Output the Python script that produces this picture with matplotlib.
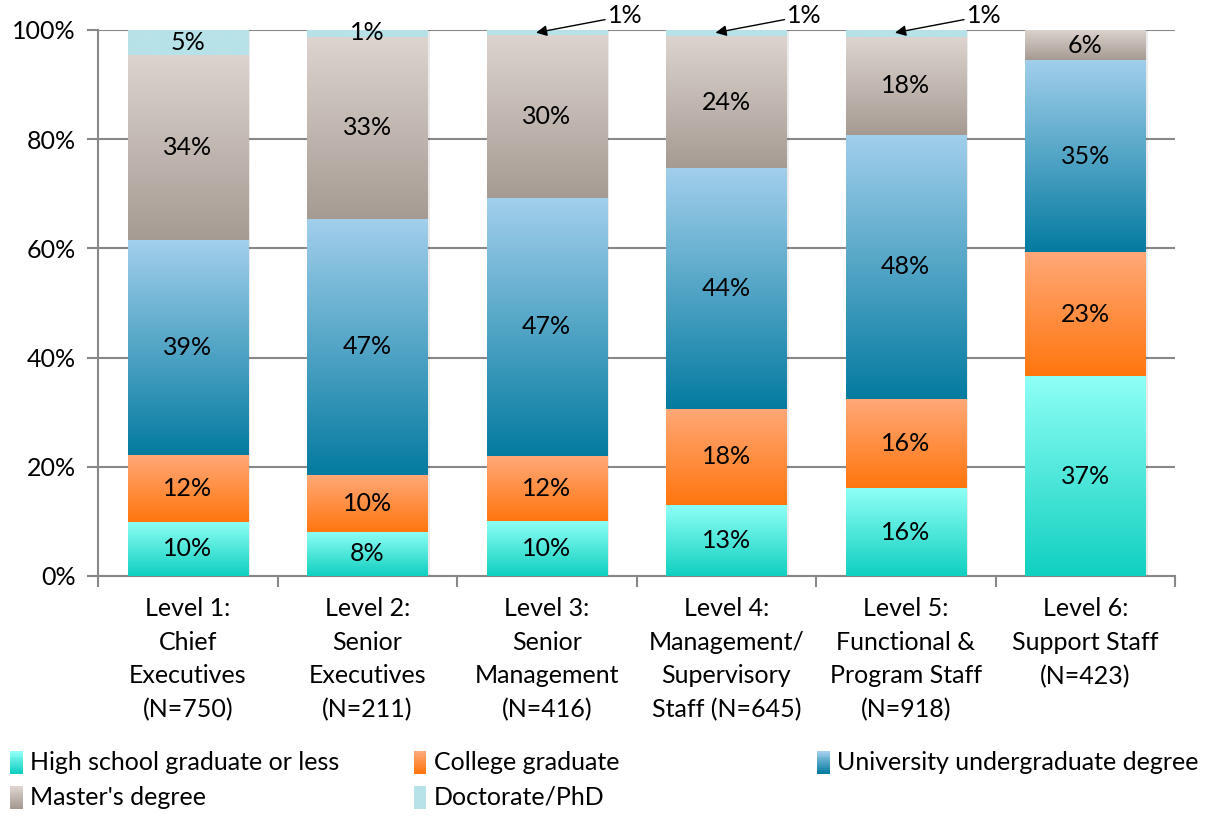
import matplotlib.pyplot as plt
import numpy as np
from matplotlib.colors import LinearSegmentedColormap
from matplotlib.patches import Rectangle
from matplotlib.legend_handler import HandlerBase

plt.rcParams['font.family'] = ['Lato', 'DejaVu Sans']

levels = ["Level 1:\nChief\nExecutives\n(N=750)",
          "Level 2:\nSenior\nExecutives\n(N=211)",
          "Level 3:\nSenior\nManagement\n(N=416)",
          "Level 4:\nManagement/\nSupervisory\nStaff (N=645)",
          "Level 5:\nFunctional &\nProgram Staff\n(N=918)",
          "Level 6:\nSupport Staff\n(N=423)"]

series = ["High school graduate or less", "College graduate",
          "University undergraduate degree", "Master's degree", "Doctorate/PhD"]

# share of each level (%), bottom to top
high_school = [9.9, 8.1, 10.1, 13.0, 16.1, 36.6]
college     = [12.3, 10.4, 11.9, 17.6, 16.3, 22.7]
university  = [39.3, 46.9, 47.2, 44.1, 48.4, 35.2]
masters     = [33.9, 33.3, 29.9, 24.2, 17.9, 5.5]
doctorate   = [4.6, 1.3, 0.9, 1.1, 1.3, 0.0]

# gradient (top colour, bottom colour) per series
grads = [("#8ffff6", "#10d0c0"),
         ("#ffa878", "#ff760e"),
         ("#a2cfec", "#047ba0"),
         ("#ddd4cf", "#a69b93"),
         ("#b7e2e8", "#b7e2e8")]

data = [high_school, college, university, masters, doctorate]
x = np.arange(len(levels))
width = 0.67
fs = 18

fig = plt.figure(figsize=(12.12, 8.15), dpi=100)
ax = fig.add_axes([0.0809, 0.2933, 0.8886, 0.6699])

grad = np.linspace(0, 1, 256).reshape(-1, 1)
bottom = np.zeros(len(levels))
for vals, (top_c, bot_c) in zip(data, grads):
    vals = np.array(vals)
    cmap = LinearSegmentedColormap.from_list("g", [bot_c, top_c])
    bars = ax.bar(x, vals, width, bottom=bottom, color="none", zorder=3)
    for b, v in zip(bars, vals):
        if v <= 0:
            continue
        x0, y0 = b.get_x(), b.get_y()
        ax.imshow(grad, cmap=cmap, origin="lower", aspect="auto", zorder=3,
                  extent=[x0, x0 + b.get_width(), y0, y0 + b.get_height()])
        # light shadow to the right of the bar
        ax.add_patch(Rectangle((x0 + b.get_width(), y0), 0.012, b.get_height(),
                               color="#000000", alpha=0.08, lw=0, zorder=2))
    for xi, v, b0 in zip(x, vals, bottom):
        if v >= 3:
            ax.text(xi, b0 + v / 2, f"{round(v)}%", ha="center", va="center",
                    fontsize=fs, zorder=5)
    bottom = bottom + vals

# small doctorate shares
ax.text(1, 99.6, "1%", ha="center", va="center", fontsize=fs, zorder=5)
for xi in [2, 3, 4]:
    ax.annotate("1%", xy=(xi - 0.06, 99.5), xytext=(xi + 0.34, 102.6),
                ha="left", va="center", fontsize=fs, zorder=5,
                annotation_clip=False,
                arrowprops=dict(arrowstyle="-|>", color="black", lw=1,
                                shrinkA=0, shrinkB=0, mutation_scale=16))

ax.set_xlim(-0.5, len(levels) - 0.5)
ax.set_ylim(0, 100)
ax.set_yticks(np.arange(0, 101, 20))
ax.set_yticklabels([f"{v}%" for v in range(0, 101, 20)], fontsize=fs)
ax.set_xticks(x)
ax.set_xticklabels(levels, fontsize=fs, linespacing=1.57, va="top")
ax.set_xticks(np.arange(-0.5, len(levels)), minor=True)
ax.tick_params(axis="x", which="major", length=0, pad=15)
ax.tick_params(axis="x", which="minor", length=8, color="#888888", width=1.5)
ax.tick_params(axis="y", length=8, color="#888888", width=1.5, pad=8)
ax.grid(axis="y", color="#888888", lw=1.5, zorder=0)
ax.set_axisbelow(True)
for s in ["top", "right"]:
    ax.spines[s].set_visible(False)
for s in ["left", "bottom"]:
    ax.spines[s].set_color("#888888")
    ax.spines[s].set_linewidth(1.5)


class GradHandler(HandlerBase):
    def __init__(self, top_c, bot_c):
        super().__init__()
        self.cmap = LinearSegmentedColormap.from_list("h", [bot_c, top_c])

    def create_artists(self, legend, orig_handle, xdescent, ydescent,
                       width, height, fontsize, trans):
        n = 12
        h = height * 1.1
        arts = []
        for i in range(n):
            arts.append(Rectangle((-xdescent, -ydescent - 0.1 * height + i * h / n),
                                  width, h / n + 0.2, color=self.cmap(i / (n - 1)),
                                  lw=0, transform=trans))
        return arts


handles = [Rectangle((0, 0), 1, 1) for _ in series]
handlers = {h: GradHandler(*g) for h, g in zip(handles, grads)}
columns = [[0, 3], [1, 4], [2]]
col_x = [0.0, 0.333, 0.666]
for cx, idx in zip(col_x, columns):
    leg = fig.legend([handles[i] for i in idx], [series[i] for i in idx],
                     handler_map=handlers, loc="upper left",
                     bbox_to_anchor=(cx, 0.091), frameon=False, fontsize=fs,
                     handlelength=0.5, handleheight=0.9, handletextpad=0.3,
                     labelspacing=0.48, borderaxespad=0)

fig.savefig("out.png", dpi=100)
